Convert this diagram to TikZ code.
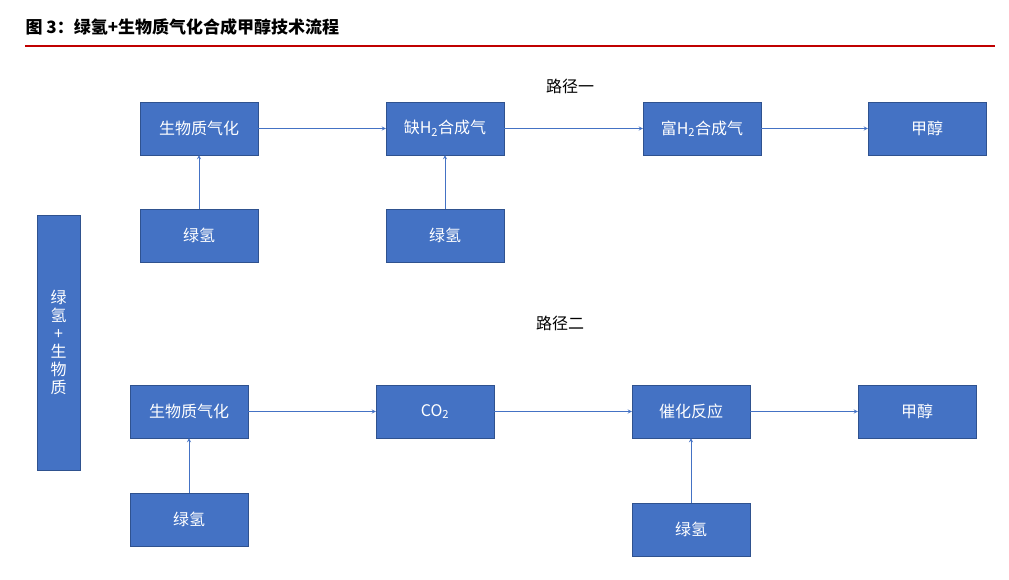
\documentclass[tikz,border=0pt]{standalone}
\usepackage{fontspec}
\newfontfamily\cjk{Noto Sans CJK SC}
\usetikzlibrary{positioning}
\definecolor{boxfill}{HTML}{4472C4}
\definecolor{boxline}{HTML}{2F528F}
\definecolor{titlered}{HTML}{C00000}
\tikzset{
	procbox/.style={
		draw=boxline,
		fill=boxfill,
		text=white,
		align=center,
		minimum width=118pt,
		minimum height=53pt,
		inner sep=1pt,
		font={\cjk\fontsize{16}{18}\selectfont}
	},
	flow/.style={
		->,
		>=stealth,
		draw=boxfill,
		line width=0.8pt
	},
	lbl/.style={
		font={\cjk\fontsize{16}{18}\selectfont}
	}
}

\begin{document}
\begin{tikzpicture}[x=1pt,y=-1pt]
\useasboundingbox (0,0) rectangle (1009,579);

% title
\node(title)[anchor=west, font={\cjk\bfseries\fontsize{17}{19}\selectfont}] at (22,27) {图 3：绿氢+生物质气化合成甲醇技术流程};
\draw[titlered, line width=2pt] (25,46) -- (995,46);

% side box
\node(side)[procbox, minimum width=43pt, minimum height=255pt] at (58.5,342.5) {绿\\氢\\+\\生\\物\\质};

% path one
\node(p1)[lbl] at (570,86) {路径一};
\node(a1)[procbox] at (199,128.5) {生物质气化};
\node(a2)[procbox] at (445,128.5) {缺H\textsubscript{2}合成气};
\node(a3)[procbox] at (702,128.5) {富H\textsubscript{2}合成气};
\node(a4)[procbox] at (927,128.5) {甲醇};
\node(h1)[procbox] at (199,235.5) {绿氢};
\node(h2)[procbox] at (445,235.5) {绿氢};

\draw[flow] (a1) -- (a2);
\draw[flow] (a2) -- (a3);
\draw[flow] (a3) -- (a4);
\draw[flow] (h1) -- (a1);
\draw[flow] (h2) -- (a2);

% path two
\node(p2)[lbl] at (560,323) {路径二};
\node(b1)[procbox] at (189,411.5) {生物质气化};
\node(b2)[procbox] at (435,411.5) {CO\textsubscript{2}};
\node(b3)[procbox] at (691,411.5) {催化反应};
\node(b4)[procbox] at (917,411.5) {甲醇};
\node(g1)[procbox] at (189,519.5) {绿氢};
\node(g2)[procbox] at (691,529.5) {绿氢};

\draw[flow] (b1) -- (b2);
\draw[flow] (b2) -- (b3);
\draw[flow] (b3) -- (b4);
\draw[flow] (g1) -- (b1);
\draw[flow] (g2) -- (b3);

\end{tikzpicture}
\end{document}
